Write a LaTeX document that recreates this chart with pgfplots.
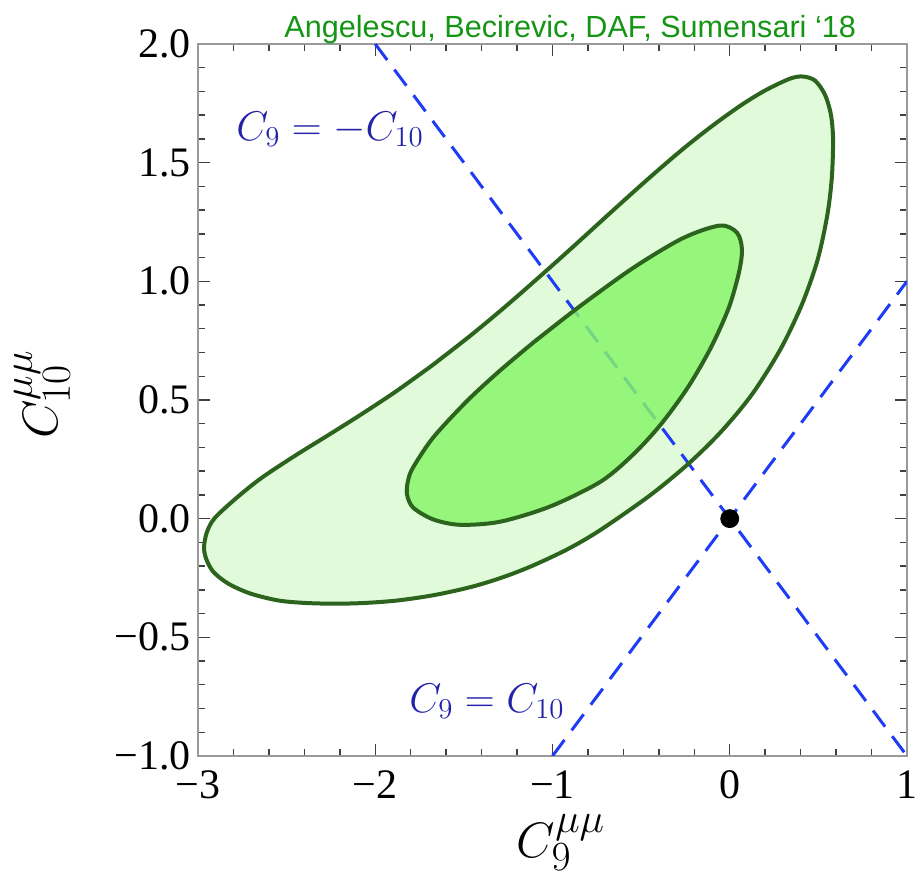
\documentclass[border=0pt]{standalone}
\usepackage{fontspec}
\setmainfont{Liberation Serif}
\newfontfamily\titlefont{Liberation Sans}
\usepackage{pgfplots}
\pgfplotsset{compat=1.18}

\definecolor{outerfill}{RGB}{224,250,218}
\definecolor{innerfill}{RGB}{134,246,104}
\definecolor{contour}{RGB}{44,100,30}
\definecolor{dashblue}{RGB}{30,60,245}
\definecolor{labblue}{RGB}{35,35,170}
\definecolor{titlegreen}{RGB}{20,150,20}

% 2 sigma contour in the (C9, C10) plane
\pgfplotstableread{
x y
-1.680 0.645
-1.889 0.533
-2.080 0.439
-2.267 0.351
-2.453 0.265
-2.639 0.173
-2.774 0.093
-2.904 0.004
-2.949 -0.055
-2.966 -0.118
-2.955 -0.167
-2.915 -0.223
-2.831 -0.273
-2.707 -0.315
-2.537 -0.346
-2.340 -0.357
-2.114 -0.357
-1.889 -0.346
-1.674 -0.323
-1.465 -0.289
-1.296 -0.251
-1.127 -0.203
-0.918 -0.130
-0.732 -0.049
-0.450 0.098
-0.232 0.232
-0.048 0.367
0.125 0.523
0.285 0.712
0.407 0.902
0.496 1.091
0.551 1.281
0.576 1.437
0.583 1.597
0.571 1.702
0.537 1.787
0.481 1.846
0.413 1.863
0.340 1.854
0.199 1.804
0.058 1.739
-0.111 1.648
-0.281 1.547
-0.478 1.420
-0.676 1.287
-0.867 1.157
-1.054 1.032
-1.262 0.896
-1.465 0.770
-1.680 0.645
}\outercontour

% 1 sigma contour
\pgfplotstableread{
x y
-1.110 0.741
-1.296 0.624
-1.482 0.496
-1.674 0.341
-1.787 0.215
-1.815 0.160
-1.821 0.103
-1.787 0.047
-1.674 -0.003
-1.522 -0.026
-1.296 -0.013
-1.014 0.051
-0.728 0.156
-0.545 0.270
-0.390 0.396
-0.237 0.552
-0.106 0.721
-0.005 0.889
0.052 1.037
0.069 1.134
0.041 1.205
-0.055 1.235
-0.264 1.182
-0.546 1.056
-0.856 0.889
-1.110 0.741
}\innercontour

\begin{document}
\begin{tikzpicture}
\begin{axis}[
  scale only axis, width=354.5pt, height=356pt,
  xmin=-3, xmax=1, ymin=-1, ymax=2,
  xtick={-3,-2,-1,0,1}, xticklabels={−3,−2,−1,0,1},
  ytick={-1,-0.5,0,0.5,1,1.5,2},
  yticklabels={−1.0,−0.5,0.0,0.5,1.0,1.5,2.0},
  minor x tick num=4, minor y tick num=4,
  tick align=inside, tick pos=both,
  major tick length=6pt, minor tick length=3.5pt,
  every tick/.style={black!75, line width=0.7pt},
  axis line style={black!40, line width=1pt},
  ticklabel style={font=\fontsize{21}{24}\selectfont},
  xticklabel style={yshift=-4pt},
  xlabel={$C_9^{\mu\mu}$}, ylabel={$C_{10}^{\mu\mu}$},
  label style={font=\fontsize{31}{36}\selectfont},
  xlabel style={at={(axis description cs:0.512,-0.122)}, anchor=center},
  ylabel style={at={(axis description cs:-0.220,0.508)}, anchor=center},
]
  % outer region fill
  \addplot[draw=none, fill=outerfill, smooth] table {\outercontour};
  % C9 = -C10 and C9 = C10 directions
  \addplot[dashblue, line width=1.5pt, dash pattern=on 10pt off 6pt]
    coordinates {(-2,2) (1,-1)};
  \addplot[dashblue, line width=1.5pt, dash pattern=on 10pt off 6pt]
    coordinates {(-1,-1) (1,1)};
  % inner region fill
  \addplot[draw=none, fill=innerfill, fill opacity=0.82, smooth] table {\innercontour};
  % contour lines
  \addplot[contour, line width=2pt, smooth] table {\outercontour};
  \addplot[contour, line width=2pt, smooth] table {\innercontour};
  % Standard Model point
  \addplot[only marks, mark=*, mark size=4.5pt, black] coordinates {(0,0)};

  \node[labblue, font=\fontsize{19.5}{22}\selectfont] at (axis cs:-2.255,1.64) {$C_9 = -C_{10}$};
  \node[labblue, font=\fontsize{19.5}{22}\selectfont] at (axis cs:-1.370,-0.771) {$C_9 = C_{10}$};

  \coordinate (titlepos) at (axis description cs:0.525,1.0098);
  \coordinate (bbSW) at (axis description cs:-0.2793,-0.1882);
  \coordinate (bbNE) at (axis description cs:1.0226,1.0618);
\end{axis}
\node[anchor=base, text=titlegreen, font=\titlefont\fontsize{15.3}{18}\selectfont]
  at (titlepos) {Angelescu, Becirevic, DAF, Sumensari ‘18};
\pgfresetboundingbox
\path (bbSW) rectangle (bbNE);
\end{tikzpicture}
\end{document}
